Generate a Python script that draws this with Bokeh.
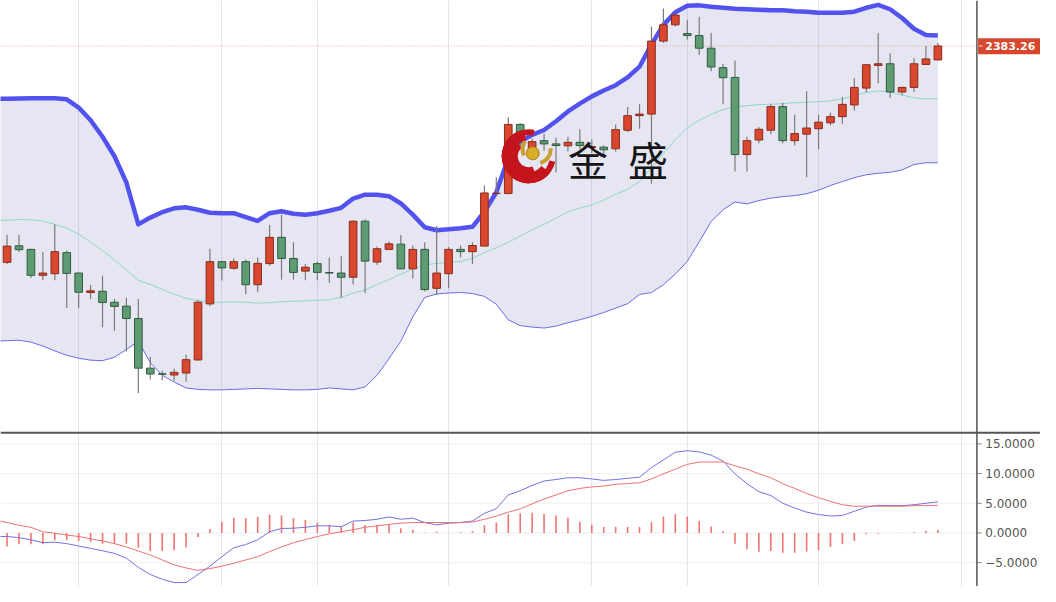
import math
from bokeh.plotting import figure
from bokeh.models import Range1d, FixedTicker, Span, ColumnDataSource
from bokeh.core.properties import value
from bokeh.embed import file_html
from bokeh.resources import INLINE

# ---------------- data ----------------
idx = list(range(79))            # candle index
line_idx = list(range(-1, 79))   # band / MACD line index (one lead-in point)

open_ = [2161, 2178, 2174.3, 2147.7, 2149.3, 2171, 2150, 2130, 2131.3, 2120,
         2116, 2103.3, 2052.3, 2046.5, 2045.3, 2047.3, 2060.7, 2118.3, 2161.7, 2155,
         2161.7, 2138, 2159.7, 2186.7, 2165, 2152, 2159.7, 2150.5, 2150, 2145.7,
         2203.3, 2161.3, 2174.3, 2179.7, 2154.3, 2174.3, 2134.3, 2149.3, 2174.3, 2172,
         2177.7, 2231.7, 2231.7, 2302.7, 2277, 2286, 2282.7, 2280.7, 2284.3, 2279,
         2279.3, 2277.7, 2296.7, 2311.7, 2313.3, 2388.3, 2405, 2396, 2394, 2381,
         2361, 2351, 2271.7, 2286.7, 2296.7, 2321, 2286, 2292.7, 2298.3, 2304.3,
         2310.7, 2322.7, 2340, 2363.3, 2365, 2336, 2340.7, 2364.3, 2369]
high = [2189.3, 2189, 2175, 2171.3, 2200, 2173.3, 2150.5, 2137.7, 2147.3, 2123.3,
        2124.7, 2123.3, 2064, 2050, 2051.7, 2066, 2122.3, 2175, 2162, 2165,
        2164, 2166, 2199.3, 2210, 2181.7, 2159.3, 2161.7, 2166, 2167.3, 2204,
        2205, 2177.3, 2182.3, 2189, 2178.3, 2181.7, 2198.3, 2176.7, 2178.3, 2181.7,
        2240, 2248.3, 2310, 2304, 2288, 2293.3, 2289.3, 2290, 2297.7, 2287,
        2281, 2302.7, 2320.7, 2323.3, 2403.3, 2421.7, 2415.5, 2410, 2413.3, 2396.7,
        2365, 2368.3, 2290, 2300, 2323.3, 2325, 2312.7, 2336.7, 2312.7, 2315,
        2331, 2350, 2364.5, 2396.7, 2375.7, 2341.7, 2370.7, 2383.3, 2386.7]
low = [2159.3, 2171.7, 2145, 2142.7, 2142.7, 2114, 2114, 2123.3, 2094.3, 2090.7,
       2069.3, 2026.7, 2040.7, 2040, 2039.3, 2038.3, 2060.7, 2116, 2142.3, 2153.3,
       2128.3, 2130.7, 2157.7, 2143.3, 2143.3, 2142.7, 2142.7, 2140, 2125, 2138.3,
       2129.3, 2158.3, 2174.3, 2154.3, 2144.3, 2131, 2127.7, 2134.3, 2166, 2159.3,
       2177.7, 2230.7, 2231.7, 2280, 2272, 2276, 2253.3, 2275, 2277.3, 2273,
       2270, 2275, 2295, 2298.3, 2241.7, 2386.7, 2403.3, 2390, 2374, 2357.3,
       2323.3, 2254.3, 2254.3, 2283.3, 2292.7, 2283.3, 2281, 2248.3, 2277.3, 2301.7,
       2303.3, 2316.7, 2335.7, 2345, 2330, 2332.7, 2336, 2364.3, 2368.3]
close = [2177.7, 2174, 2147.7, 2150, 2172, 2149.7, 2130.3, 2131.7, 2119.7, 2115.7,
         2103.3, 2052.3, 2046.3, 2046, 2048, 2061, 2120, 2161.7, 2155.3, 2161.7,
         2138, 2160, 2186.7, 2165, 2150.7, 2156, 2150.7, 2150, 2145.7, 2203.3,
         2162.3, 2175, 2180, 2154.3, 2174.3, 2133, 2150, 2174.3, 2172, 2178.3,
         2232.3, 2232, 2302.7, 2285, 2285, 2282.7, 2281, 2284.3, 2281, 2280,
         2276.7, 2297.3, 2311.7, 2313.3, 2388.3, 2405, 2415, 2394, 2381, 2361.7,
         2350.7, 2271.7, 2286, 2297.7, 2321, 2286, 2293.3, 2299, 2305, 2310.7,
         2323.3, 2340.7, 2364, 2365, 2336, 2340.7, 2365, 2370, 2383.26]

boll_upper = [2329, 2329, 2329.3, 2329.5, 2329.7, 2329.5, 2328.5, 2320, 2307, 2290,
              2270, 2243, 2200, 2207, 2212.5, 2216.5, 2217.5, 2215, 2212, 2211.5,
              2211.5, 2207.5, 2203.5, 2211.5, 2213.5, 2211, 2210, 2211.5, 2214, 2217,
              2226.5, 2230.5, 2230.5, 2229, 2221.5, 2210, 2197, 2194, 2195, 2196,
              2197.5, 2213, 2233, 2268, 2285, 2292, 2297, 2306, 2316, 2324,
              2331.5, 2337.5, 2343, 2351, 2362, 2385, 2405, 2418, 2424.5, 2425,
              2423.5, 2422.5, 2421.5, 2421, 2420.5, 2420, 2420, 2419, 2418.5, 2417.5,
              2417.5, 2417.5, 2418.5, 2422.5, 2425.5, 2421, 2412, 2401, 2394.5, 2394]
boll_mid = [2204, 2204.3, 2205, 2204.7, 2203.3, 2200, 2196, 2190, 2181.7, 2173.3,
            2163.3, 2153.3, 2142.7, 2138.3, 2133.3, 2128.3, 2124, 2121.7, 2120, 2120,
            2120.5, 2120, 2119, 2119.5, 2120.5, 2121, 2121.5, 2122, 2122.7, 2125,
            2129.3, 2132.7, 2138.3, 2143.3, 2149, 2154.3, 2158.3, 2160, 2160.7, 2162,
            2165, 2171, 2176, 2181.5, 2188, 2194.5, 2200, 2206.5, 2213, 2216.7,
            2220, 2225, 2231, 2236, 2244, 2258, 2273, 2287, 2299, 2307,
            2313, 2318, 2320.5, 2322, 2323, 2323.5, 2324, 2325, 2325.5, 2326,
            2327, 2329, 2332, 2335.5, 2337, 2336, 2333, 2330, 2329, 2329]
boll_lower = [2080, 2080.5, 2081, 2079, 2075, 2070, 2065.5, 2062.5, 2060.5, 2060,
              2063.5, 2071.5, 2080, 2058, 2045, 2038, 2032, 2030.5, 2030, 2030,
              2030.5, 2031, 2031.5, 2031, 2030.5, 2030, 2030, 2030.5, 2032, 2031,
              2030, 2033, 2045, 2062, 2080, 2105, 2125, 2128.5, 2129.5, 2130,
              2129, 2126, 2118, 2102, 2096, 2094.5, 2093.5, 2095.5, 2099, 2102,
              2105.5, 2109.5, 2114, 2118.5, 2128, 2130, 2138, 2149, 2162, 2182,
              2203, 2215, 2223, 2221, 2224.5, 2227, 2228.5, 2229.5, 2231.5, 2235,
              2240, 2244, 2248, 2251, 2252.5, 2253.5, 2256, 2261.5, 2263.3, 2263.3]

macd_dif = [-0.6, -0.6, -0.8, -1.15, -1.65, -1.55, -1.8, -2.2, -2.6, -3.0,
            -3.45, -4.25, -5.8, -7.0, -7.8, -8.35, -8.35, -7.0, -5.6, -4.0,
            -2.5, -1.95, -1.15, 0.2, 0.75, 0.8, 0.95, 1.2, 1.2, 1.05,
            2.0, 2.1, 2.3, 2.7, 2.3, 2.5, 1.75, 1.35, 1.65, 1.75,
            2.0, 3.3, 4.1, 6.4, 7.1, 8.0, 8.75, 9.0, 9.3, 9.3,
            9.1, 8.85, 9.0, 9.2, 9.4, 11.0, 12.3, 13.6, 13.85, 13.65,
            13.1, 12.1, 9.95, 8.3, 6.95, 6.3, 5.0, 4.2, 3.5, 3.1,
            2.85, 2.95, 3.65, 4.35, 4.65, 4.6, 4.6, 4.75, 5.0, 5.25]
macd_dea = [2.2, 1.75, 1.3, 0.95, 0.2, -0.05, -0.35, -0.6, -1.0, -1.35,
            -1.8, -2.35, -3.05, -3.7, -4.55, -5.35, -5.9, -6.3, -6.0, -5.6,
            -5.1, -4.55, -4.0, -3.15, -2.35, -1.65, -1.1, -0.6, -0.15, 0.2,
            0.55, 0.95, 1.2, 1.45, 1.65, 1.75, 1.75, 1.75, 1.75, 1.75,
            1.85, 2.3, 2.85, 3.5, 4.05, 4.9, 5.7, 6.4, 7.1, 7.5,
            7.75, 7.9, 8.2, 8.3, 8.45, 9.1, 9.95, 10.75, 11.55, 11.95,
            11.95, 11.95, 11.3, 10.75, 9.95, 9.3, 8.3, 7.5, 6.65, 5.95,
            5.3, 4.75, 4.5, 4.5, 4.5, 4.5, 4.5, 4.6, 4.6, 4.65]
macd_hist = [-2.3, -1.9, -1.9, -1.9, -1.25, -1.25, -1.35, -1.5, -1.8, -1.8,
             -1.8, -2.5, -3.05, -3.05, -2.9, -2.45, -0.7, 0.65, 1.85, 2.5,
             2.5, 2.7, 3.1, 2.95, 2.5, 2.2, 1.75, 1.35, 1.05, 1.75,
             1.35, 1.3, 1.35, 0.8, 0.55, 0.05, 0.2, 0.02, 0.15, 0.3,
             1.3, 1.75, 3.1, 3.3, 3.4, 3.2, 2.95, 2.55, 1.9, 1.4,
             1.0, 1.0, 1.0, 1.0, 1.85, 2.75, 3.2, 2.75, 2.0, 1.1,
             0.3, -1.8, -2.75, -3.15, -3.05, -3.35, -3.35, -3.15, -2.9, -2.35,
             -1.9, -1.35, -0.2, -0.15, 0.0, 0.05, 0.1, 0.35, 0.5]

grid_idx = [6, 18, 26, 37, 49, 57, 68, 80]
macd_ticks = [-5, 0, 5, 10, 15]
macd_tick_labels = ["\u22125.0000", "0.0000", "5.0000", "10.0000", "15.0000"]
last_price = 2383.26
brand_text = "金\u2002盛"

# ---------------- layout constants ----------------
X0, X_AXIS, X1 = -0.55, 81.27, 86.6      # plot left, price-axis line, right edge (index units)
P_LO, P_HI = 1828, 2430                    # price range of the whole canvas
M_LO, M_HI = -9.02, 89.67                  # MACD range of the whole canvas
SEPARATOR = 1986                           # price level of the panel divider

p = figure(width=1040, height=586, output_backend="svg", toolbar_location=None,
           x_range=Range1d(X0, X1), y_range=Range1d(P_LO, P_HI),
           x_axis_location=None, y_axis_location=None, min_border=0,
           outline_line_color=None, background_fill_color="white",
           border_fill_color="white")
p.extra_y_ranges = {"macd": Range1d(M_LO, M_HI)}

for g in p.xgrid:
    g.ticker = FixedTicker(ticks=grid_idx)
    g.grid_line_color = "#e6e6ea"
    g.grid_line_width = 1
for g in p.ygrid:
    g.visible = False

# MACD horizontal grid lines (only left of the price axis)
p.segment(x0=[X0] * len(macd_ticks), x1=[X_AXIS] * len(macd_ticks),
          y0=macd_ticks, y1=macd_ticks, y_range_name="macd",
          line_color="#efeff2", line_width=1)

# Bollinger bands
p.varea(x=line_idx, y1=boll_lower, y2=boll_upper, fill_color="#3c3ca0", fill_alpha=0.13)
p.line(line_idx, boll_mid, line_color="#8fd6c6", line_width=1)
p.line(line_idx, boll_lower, line_color="#6c6ce6", line_width=1)
p.line(line_idx, boll_upper, line_color="#5252ee", line_width=4.5, line_join="round")

# last-price dotted line
p.segment(x0=[X0], x1=[X_AXIS], y0=[last_price], y1=[last_price],
          line_color="#ee9a8a", line_width=1, line_dash="1 2")

# candles
up = [c >= o for o, c in zip(open_, close)]
src = ColumnDataSource(dict(
    x=idx, high=high, low=low,
    top=[max(o, c) for o, c in zip(open_, close)],
    bottom=[min(o, c) for o, c in zip(open_, close)],
    fill=["#d9472f" if u else "#5e9c74" for u in up],
    edge=["#8a2b1c" if u else "#2f5a3f" for u in up],
))
p.segment("x", "high", "x", "low", source=src, line_color="#7a7a7a", line_width=1.2)
p.vbar(x="x", width=0.64, top="top", bottom="bottom", source=src,
       fill_color="fill", line_color="edge", line_width=1)

# MACD
p.segment(x0=idx, y0=[0] * len(idx), x1=idx, y1=macd_hist, y_range_name="macd",
          line_color="#f07474", line_width=1.6)
p.line(line_idx, macd_dif, y_range_name="macd", line_color="#7272e6", line_width=1)
p.line(line_idx, macd_dea, y_range_name="macd", line_color="#f07070", line_width=1)

# panel separator and price-axis line
p.add_layout(Span(location=SEPARATOR, dimension="width", line_color="#555555", line_width=2))
p.add_layout(Span(location=X_AXIS, dimension="height", line_color="#555555", line_width=1.5))

# MACD value scale (right)
p.segment(x0=[X_AXIS] * len(macd_ticks), x1=[X_AXIS + 0.4] * len(macd_ticks),
          y0=macd_ticks, y1=macd_ticks, y_range_name="macd",
          line_color="#888888", line_width=1)
p.text(x=[X_AXIS + 0.7] * len(macd_ticks), y=macd_ticks, text=macd_tick_labels,
       y_range_name="macd", text_font=value("DejaVu Sans"), text_font_size="12px",
       text_color="#555555", text_baseline="middle", text_align="left")

# last price tag
p.quad(left=[X_AXIS + 0.1], right=[X1], top=[last_price + 8], bottom=[last_price - 8.5],
       fill_color="#d6472c", line_color=None)
p.segment(x0=[X_AXIS + 0.2], x1=[X_AXIS + 0.45], y0=[last_price], y1=[last_price],
          line_color="white", line_width=1)
p.text(x=[X_AXIS + 0.7], y=[last_price], text=[f"{last_price:.2f}"],
       text_font=value("DejaVu Sans"), text_font_style="bold", text_font_size="11px",
       text_color="white", text_baseline="middle", text_align="left")

# watermark logo
lx, ly = 43.72, 2270
p.annular_wedge(x=[lx] * 3, y=[ly] * 3, inner_radius=[11, 16, 21], outer_radius=27,
                inner_radius_units="screen", outer_radius_units="screen",
                start_angle=[math.radians(a) for a in (130, 100, 78)],
                end_angle=[math.radians(a) for a in (290, 322, 348)],
                fill_color="#c4141c", line_color=None)
gx, gy = 44.38, 2277
p.annular_wedge(x=[gx] * 2, y=[gy] * 2, inner_radius=12, outer_radius=16,
                inner_radius_units="screen", outer_radius_units="screen",
                start_angle=[math.radians(a) for a in (145, -75)],
                end_angle=[math.radians(a) for a in (205, 5)],
                fill_color="#c9a032", line_color=None)
p.scatter(x=[44.05], y=[2273], size=13, fill_color="#d9ad25", line_color="#a8801a")
p.text(x=[47.0], y=[2267.5], text=[brand_text], text_font=value("Noto Sans CJK SC"),
       text_font_size="40px", text_color="#151515", text_baseline="middle",
       text_align="left")

open("out.html", "w").write(file_html(p, INLINE))
